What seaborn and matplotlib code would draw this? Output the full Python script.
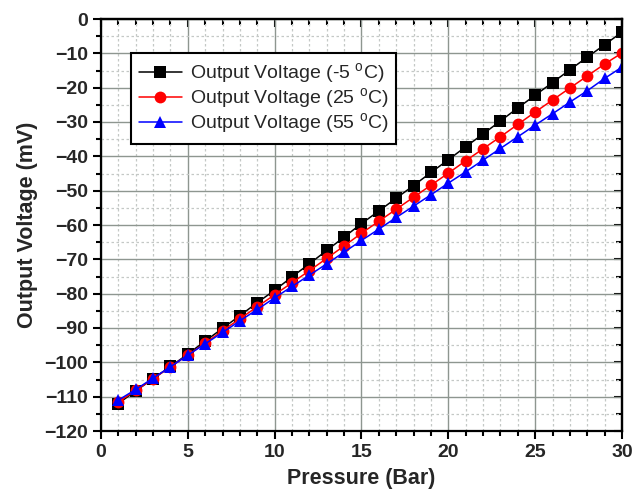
import matplotlib
matplotlib.use("Agg")
import matplotlib.pyplot as plt
import seaborn as sns
import pandas as pd
from matplotlib.ticker import MultipleLocator

pressure = list(range(1, 31))
v_m5 = [-112.0, -108.3, -104.8, -101.2, -97.6, -93.8, -90.1, -86.4, -82.6, -79.0,
        -75.1, -71.3, -67.4, -63.5, -59.6, -55.9, -52.2, -48.5, -44.7, -41.0,
        -37.2, -33.5, -29.7, -25.9, -22.2, -18.5, -14.8, -11.1, -7.5, -3.8]
v_25 = [-111.5, -108.2, -104.8, -101.3, -97.9, -94.4, -90.8, -87.3, -83.8, -80.3,
        -76.8, -73.3, -69.7, -66.1, -62.4, -58.9, -55.4, -51.9, -48.4, -44.9,
        -41.3, -37.8, -34.3, -30.7, -27.1, -23.6, -20.1, -16.6, -13.1, -9.9]
v_55 = [-111.0, -107.9, -104.6, -101.3, -97.9, -94.6, -91.3, -87.9, -84.6, -81.2,
        -77.9, -74.6, -71.3, -67.9, -64.5, -61.2, -57.8, -54.5, -51.2, -47.8,
        -44.5, -41.1, -37.7, -34.3, -30.9, -27.6, -24.2, -20.9, -17.3, -14.0]
labels = ["Output Voltage (-5 $^{\\rm o}$C)", "Output Voltage (25 $^{\\rm o}$C)",
          "Output Voltage (55 $^{\\rm o}$C)"]
colors = ["black", "red", "blue"]
markers = ["s", "o", "^"]

sns.set_theme(style="white")
plt.rcParams["font.family"] = ["Liberation Sans", "DejaVu Sans"]
plt.rcParams["mathtext.fontset"] = "custom"
plt.rcParams["mathtext.rm"] = "Liberation Sans"

fig = plt.figure(figsize=(6.44, 4.91), dpi=100)
ax = fig.add_axes([101/644, 1-431/491, (622-101)/644, (431-19)/491])

for ys, lab, c, m in zip([v_m5, v_25, v_55], labels, colors, markers):
    df = pd.DataFrame({"Pressure": pressure, "V": ys})
    sns.lineplot(data=df, x="Pressure", y="V", ax=ax, color=c, marker=m,
                 markersize=8 if m != "o" else 8.5, markeredgewidth=0, linewidth=1.1,
                 label=lab)

ax.set_xlim(0, 30)
ax.set_ylim(-120, 0)
ax.xaxis.set_major_locator(MultipleLocator(5))
ax.xaxis.set_minor_locator(MultipleLocator(1))
ax.yaxis.set_major_locator(MultipleLocator(10))
ax.yaxis.set_minor_locator(MultipleLocator(5))

ax.grid(which="major", color="#8e9690", linewidth=1.0, linestyle="-")
ax.grid(which="minor", color="#c4c8c6", linewidth=0.9, linestyle=(0, (2, 2)))
ax.set_axisbelow(True)

for s in ax.spines.values():
    s.set_color("black")
    s.set_linewidth(1.6)

ax.tick_params(which="both", bottom=True, left=True, top=False, right=False,
               direction="out", color="black", width=1.5)
ax.tick_params(which="major", length=6, labelsize=14)
ax.tick_params(which="minor", length=3.5)
for lbl in ax.get_xticklabels() + ax.get_yticklabels():
    lbl.set_fontweight("bold")

# mirrored inward ticks on top and right
secx = ax.secondary_xaxis("top")
secx.xaxis.set_major_locator(MultipleLocator(5))
secx.xaxis.set_minor_locator(MultipleLocator(1))
secx.tick_params(which="both", direction="in", color="black", width=1.5, labeltop=False)
secx.tick_params(which="major", length=6)
secx.tick_params(which="minor", length=4)
secx.spines["top"].set_linewidth(1.6)
secy = ax.secondary_yaxis("right")
secy.yaxis.set_major_locator(MultipleLocator(10))
secy.yaxis.set_minor_locator(MultipleLocator(5))
secy.tick_params(which="both", direction="in", color="black", width=1.5, labelright=False)
secy.tick_params(which="major", length=6)
secy.tick_params(which="minor", length=4)
secy.spines["right"].set_linewidth(1.6)

ax.set_xlabel("Pressure (Bar)", fontsize=15.5, fontweight="bold", labelpad=5)
ax.set_ylabel("Output Voltage (mV)", fontsize=15.5, fontweight="bold", labelpad=4)

leg = ax.legend(loc="upper left", bbox_to_anchor=(0.058, 0.917), borderaxespad=0,
                fontsize=14, frameon=True, fancybox=False, framealpha=1,
                edgecolor="black", handlelength=2.2, handletextpad=0.4,
                labelspacing=0.02, borderpad=0.4)
leg.get_frame().set_linewidth(1.5)

fig.savefig("out.png", dpi=100)
